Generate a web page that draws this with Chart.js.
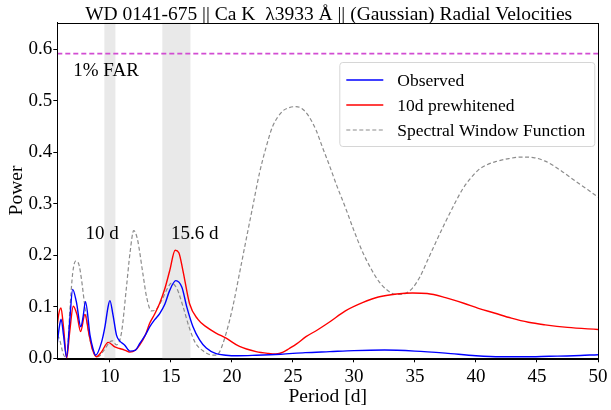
<!DOCTYPE html>
<html><head><meta charset="utf-8">
<script src="https://cdn.jsdelivr.net/npm/chart.js@4"></script>
<style>html,body{margin:0;padding:0;background:#fff}#wrap{width:611px;height:410px}</style>
</head><body><div id="wrap"><canvas id="c" width="611" height="410"></canvas></div>
<script>
// ---- data ----
const periodObs = [5.69,5.85,6.0,6.2,6.45,6.7,6.95,7.25,7.62,7.8,8.0,8.37,8.6,8.83,9.3,9.6,9.85,10.0,10.25,10.54,10.8,11.2,11.65,12.1,12.45,12.9,13.26,13.67,14.08,14.5,14.9,15.4,15.9,16.3,16.8,17.35,17.9,18.7,19.5,20.5,22,24,26,28,30,32.5,35,37.5,40,42,44,46,48,50];
const powerObs  = [0.03,0.06,0.076,0.045,0.002,0.07,0.134,0.11,0.061,0.08,0.11,0.045,0.02,0.006,0.03,0.062,0.1,0.112,0.085,0.045,0.034,0.026,0.014,0.016,0.029,0.045,0.061,0.075,0.087,0.105,0.132,0.151,0.138,0.1,0.062,0.036,0.02,0.009,0.006,0.005,0.006,0.008,0.011,0.013,0.015,0.016,0.014,0.01,0.005,0.003,0.003,0.004,0.005,0.007];

const periodPre = [5.69,5.8,5.99,6.2,6.46,6.7,7.0,7.3,7.6,7.95,8.3,8.6,8.9,9.3,9.86,10.4,10.8,11.2,11.63,12.1,12.45,12.9,13.26,13.67,14.08,14.5,14.9,15.35,15.65,15.98,16.53,17.2,17.9,18.7,19.53,20.62,21.98,23.0,23.6,24.2,24.7,25.3,26.07,27.0,27.97,29.3,30.7,32.0,33.5,34.8,36.0,37.5,39.0,40.2,41.5,42.9,44.3,45.67,47.5,50];
const powerPre  = [0.065,0.085,0.098,0.06,0.0,0.05,0.101,0.085,0.052,0.085,0.045,0.015,0.003,0.012,0.031,0.022,0.019,0.016,0.012,0.016,0.026,0.045,0.068,0.086,0.107,0.135,0.17,0.21,0.205,0.171,0.106,0.076,0.061,0.049,0.039,0.023,0.013,0.0095,0.0085,0.012,0.019,0.028,0.042,0.055,0.07,0.092,0.108,0.119,0.125,0.127,0.126,0.118,0.107,0.097,0.088,0.078,0.07,0.065,0.06,0.056];

const periodWin = [5.69,5.9,6.1,6.3,6.5,6.72,6.95,7.2,7.45,7.68,7.95,8.3,8.6,9.04,9.5,10.0,10.2,10.54,10.95,11.36,11.65,11.95,12.25,12.7,13.0,13.4,13.8,14.3,14.7,15.04,15.5,16.0,16.5,17.0,17.6,18.2,18.71,19.0,19.53,20.07,20.62,21.16,21.7,22.25,22.8,23.33,24.15,24.7,25.25,25.8,26.33,26.9,27.42,27.97,28.6,29.33,30.0,30.7,31.4,32.05,32.7,33.4,34.1,34.78,35.4,36.1,36.8,37.5,38.2,38.86,39.5,40.2,40.9,41.6,42.7,43.76,44.7,45.67,46.3,47.0,47.7,48.4,49.2,50];
const powerWin  = [0.045,0.035,0.015,0.003,0.01,0.094,0.165,0.189,0.183,0.152,0.1,0.045,0.015,0.003,0.015,0.032,0.034,0.026,0.05,0.139,0.205,0.248,0.232,0.165,0.12,0.092,0.095,0.115,0.135,0.146,0.135,0.1,0.06,0.03,0.015,0.007,0.006,0.013,0.049,0.10,0.165,0.23,0.294,0.359,0.41,0.45,0.48,0.487,0.489,0.484,0.469,0.443,0.41,0.376,0.335,0.291,0.248,0.207,0.174,0.149,0.133,0.124,0.125,0.136,0.158,0.194,0.23,0.265,0.298,0.327,0.348,0.366,0.376,0.382,0.388,0.391,0.39,0.383,0.375,0.364,0.352,0.34,0.327,0.313];

const farLevel = 0.592;
const bandRanges = [[9.55,10.45],[14.3,16.6]];
const xTickValues = [10,15,20,25,30,35,40,45,50];
const yTickValues = [0,0.1,0.2,0.3,0.4,0.5,0.6];
const seriesLabels = ['Observed','10d prewhitened','Spectral Window Function'];
const titleText = 'WD 0141-675 || Ca K  \u03bb3933 \u00c5 || (Gaussian) Radial Velocities';
const noteTexts = ['1% FAR','10 d','15.6 d'];
const notePeriods = [7.0,8.0,15.0];
const notePowers = [0.548,0.232,0.232];
const xRange = [5.69,50];
const yRange = [0,0.652];

// ---- styling ----
const FONT = "'Liberation Serif','Times New Roman',serif";
const toXY = (xs, ys) => xs.map((x,i)=>({x:x,y:ys[i]}));

const decorPlugin = {
  id:'decor',
  beforeDatasetsDraw(chart){
    const {ctx, chartArea:a, scales:{x,y}} = chart;
    ctx.save();
    ctx.fillStyle = 'rgba(211,211,211,0.5)';
    bandRanges.forEach(([lo,hi])=>{
      const x0 = x.getPixelForValue(lo), x1 = x.getPixelForValue(hi);
      ctx.fillRect(x0, a.top, x1-x0, a.bottom-a.top);
    });
    ctx.restore();
  },
  afterDatasetsDraw(chart){
    const {ctx, chartArea:a, scales:{x,y}} = chart;
    ctx.save();
    // frame
    ctx.strokeStyle = '#000'; ctx.lineWidth = 1;
    ctx.strokeRect(Math.round(a.left)+0.5, Math.round(a.top)+0.5, Math.round(a.right-a.left), Math.round(a.bottom-a.top));
    // annotations
    ctx.fillStyle = '#000';
    ctx.font = '19px ' + FONT;
    ctx.textAlign = 'left'; ctx.textBaseline = 'alphabetic';
    noteTexts.forEach((t,i)=>{
      ctx.fillText(t, x.getPixelForValue(notePeriods[i]), y.getPixelForValue(notePowers[i]));
    });
    // title
    ctx.textAlign = 'center';
    ctx.font = '19.5px ' + FONT;
    ctx.fillText(titleText, (a.left+a.right)/2 + 1, 19.5);
    // legend
    const lx = a.left + 282, ly = 62, lw = 255, lh = 84;
    ctx.beginPath();
    ctx.roundRect(lx+0.5, ly+0.5, lw, lh, 3);
    ctx.fillStyle = 'rgba(255,255,255,0.85)'; ctx.fill();
    ctx.strokeStyle = '#d6d6d6'; ctx.lineWidth = 1; ctx.stroke();
    ctx.font = '17.5px ' + FONT;
    ctx.textBaseline = 'middle'; ctx.textAlign = 'left';
    for (let i=0;i<3;i++){
      const ds = chart.data.datasets[i];
      const ry = ly + 18 + i*25;
      ctx.beginPath();
      ctx.strokeStyle = ds.borderColor; ctx.lineWidth = ds.borderWidth;
      ctx.setLineDash(ds.borderDash || []);
      ctx.moveTo(lx+7, ry); ctx.lineTo(lx+44, ry); ctx.stroke();
      ctx.setLineDash([]);
      ctx.fillStyle = '#000';
      ctx.fillText(ds.label, lx+58, ry+1);
    }
    ctx.restore();
  }
};

new Chart(document.getElementById('c'), {
  type:'line',
  data:{datasets:[
    {label:seriesLabels[0], data:toXY(periodObs,powerObs), borderColor:'#0000ff', borderWidth:1.4, cubicInterpolationMode:'monotone', pointRadius:0, order:1},
    {label:seriesLabels[1], data:toXY(periodPre,powerPre), borderColor:'#ff0000', borderWidth:1.4, cubicInterpolationMode:'monotone', pointRadius:0, order:2},
    {label:seriesLabels[2], data:toXY(periodWin,powerWin), borderColor:'#8c8c8c', borderWidth:1.2, borderDash:[4,2.5], cubicInterpolationMode:'monotone', pointRadius:0, order:3},
    {label:'FAR', data:[{x:xRange[0],y:farLevel},{x:xRange[1],y:farLevel}], borderColor:'#d24dd2', borderWidth:1.6, borderDash:[5,3], pointRadius:0, order:4}
  ]},
  options:{
    responsive:false, animation:false, devicePixelRatio:1,
    layout:{padding:{left:0,right:11.5,top:22.7,bottom:0}},
    plugins:{legend:{display:false}, title:{display:false}, tooltip:{enabled:false}},
    scales:{
      x:{type:'linear', min:xRange[0], max:xRange[1],
        afterFit(s){ s.height = 51.7; },
        afterBuildTicks(s){ s.ticks = xTickValues.map(v=>({value:v})); },
        grid:{display:true, drawOnChartArea:false, drawTicks:true, tickLength:4, color:'#000'},
        border:{display:true, color:'#000', width:1},
        ticks:{color:'#000', font:{family:FONT, size:19}, padding:3.5, maxRotation:0, callback:(v)=>String(v)},
        title:{display:true, text:'Period [d]', color:'#000', font:{family:FONT, size:19.5}, padding:{top:0,bottom:1}}
      },
      y:{type:'linear', min:yRange[0], max:yRange[1],
        afterFit(s){ s.width = 57.3; },
        afterBuildTicks(s){ s.ticks = yTickValues.map(v=>({value:v})); },
        grid:{display:true, drawOnChartArea:false, drawTicks:true, tickLength:4, color:'#000'},
        border:{display:true, color:'#000', width:1},
        ticks:{color:'#000', font:{family:FONT, size:19}, padding:1, callback:(v)=>Number(v).toFixed(1)},
        title:{display:true, text:'Power', color:'#000', font:{family:FONT, size:19.5}, padding:{top:5,bottom:0}}
      }
    }
  },
  plugins:[decorPlugin]
});
</script></body></html>
